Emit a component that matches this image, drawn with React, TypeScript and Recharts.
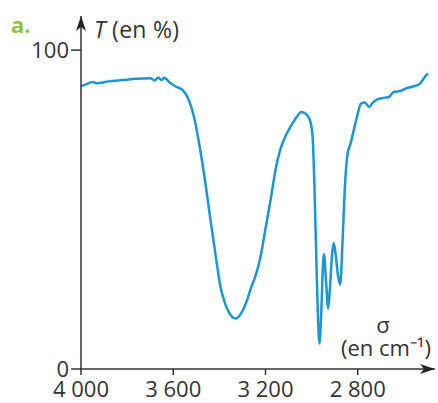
import { LineChart, Line, XAxis, YAxis } from "recharts"

// wavenumber (cm-1) from left to right
const sigma = [
  4000, 3980, 3950, 3930, 3880, 3820, 3760, 3700, 3680, 3665, 3650, 3640,
  3610, 3590, 3560, 3540, 3510, 3483, 3460, 3439, 3415, 3396, 3375, 3350,
  3330, 3305, 3280, 3265, 3240, 3222, 3200, 3178, 3155, 3135, 3110, 3091,
  3065, 3045, 3025, 3005, 2995, 2985, 2975, 2966, 2958, 2950, 2946, 2938,
  2928, 2920, 2910, 2904, 2896, 2885, 2876, 2866, 2855, 2845, 2830, 2817,
  2800, 2787, 2770, 2750, 2735, 2713, 2690, 2665, 2645, 2610, 2590, 2560,
  2530, 2510, 2496,
]

// transmittance (%)
const transmittance = [
  88.7, 89.2, 90, 89.6, 90.2, 90.6, 91, 91.2, 90.5, 91.4, 90.6, 91.3,
  89.5, 88.6, 87.5, 85.5, 79, 68.7, 58, 47, 35, 26, 20.5, 16.8,
  15.8, 17.5, 21.5, 25, 30, 35, 44, 53, 63, 69, 73.5, 76,
  79, 80.6, 80, 77.5, 72, 50, 22, 8, 18, 34, 36, 28,
  19, 26, 37, 39.5, 36, 29, 26.5, 40, 58, 67, 71, 75,
  80, 83.2, 83.6, 82.2, 83.5, 84.6, 85, 85.3, 86.8, 87.3, 88, 88.6,
  89.5, 91.5, 92.7,
]

const xTicks = [4000, 3600, 3200, 2800]
const yTicks = [0, 100]

const data = sigma.map((s, i) => ({ sigma: s, t: transmittance[i] }))

const axisColor = "#333"
const font = "'Open Sans', sans-serif"

const fmtX = (v: number) => {
  const s = String(v)
  return s.length > 3 ? s.slice(0, s.length - 3) + " " + s.slice(-3) : s
}

export default function App() {
  return (
    <div style={{ position: "absolute", left: 0, top: 0, width: 438, height: 403, background: "#fff" }}>
      <svg width={0} height={0} style={{ position: "absolute" }}>
        <defs>
          <marker
            id="arrow"
            markerUnits="userSpaceOnUse"
            markerWidth={16}
            markerHeight={12}
            refX={15}
            refY={5}
            orient="auto-start-reverse"
          >
            <path d="M0,0 L15,5 L0,10 L4,5 Z" fill="#222" />
          </marker>
        </defs>
      </svg>
      <LineChart
        width={438}
        height={403}
        data={data}
        margin={{ top: 16, right: 3, left: 0, bottom: 0 }}
      >
        <XAxis
          dataKey="sigma"
          type="number"
          domain={[2465, 4000]}
          reversed
          ticks={xTicks}
          tickFormatter={fmtX}
          interval={0}
          height={34}
          tickSize={6}
          tickMargin={6}
          axisLine={{ stroke: axisColor, strokeWidth: 1.5, markerEnd: "url(#arrow)" }}
          tickLine={{ stroke: axisColor, strokeWidth: 1.5 }}
          tick={{ fill: "#333", fontSize: 22, fontFamily: font }}
        />
        <YAxis
          type="number"
          domain={[0, 110.7]}
          ticks={yTicks}
          interval={0}
          width={81}
          tickSize={10}
          tickMargin={2}
          axisLine={{ stroke: axisColor, strokeWidth: 1.5, markerStart: "url(#arrow)" }}
          tickLine={{ stroke: axisColor, strokeWidth: 1.5 }}
          tick={{ fill: "#333", fontSize: 22, fontFamily: font }}
        />
        <Line
          dataKey="t"
          type="monotone"
          stroke="#1a96d4"
          strokeWidth={2.5}
          dot={false}
          isAnimationActive={false}
        />
      </LineChart>
      <svg
        width={438}
        height={403}
        style={{ position: "absolute", left: 0, top: 0, pointerEvents: "none" }}
      >
        <text x={11} y={33} fill="#8cc63e" fontSize={22} fontWeight="bold" fontFamily={font}>
          a.
        </text>
        <text x={94} y={38} fill="#333" fontSize={23} fontFamily={font} letterSpacing={0.3}>
          <tspan fontStyle="italic">T</tspan> (en %)
        </text>
        <text x={383} y={333} fill="#333" fontSize={22} fontFamily={font} textAnchor="middle">
          σ
        </text>
        <text x={431} y={356} fill="#333" fontSize={22} fontFamily={font} textAnchor="end">
          (en cm⁻¹)
        </text>
      </svg>
    </div>
  )
}
